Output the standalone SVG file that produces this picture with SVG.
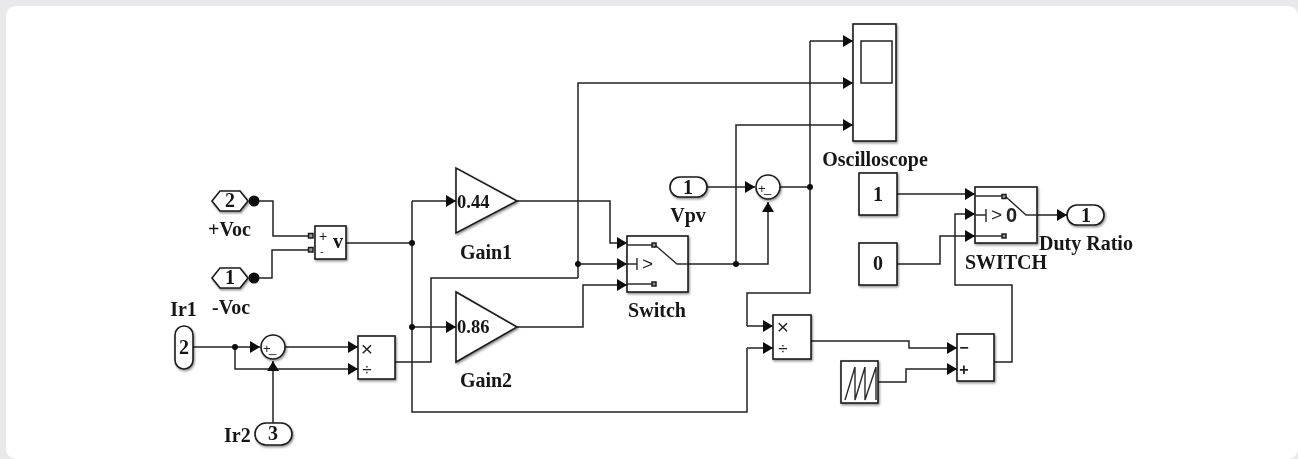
<svg xmlns="http://www.w3.org/2000/svg" width="1298" height="459" viewBox="0 0 1298 459">
<style>
.b{fill:#fff;stroke:#1c1c1c;stroke-width:1.6;filter:url(#sh)}
.w{fill:none;stroke:#222;stroke-width:1.5}
.a{marker-end:url(#ar)}
.i{fill:none;stroke:#2a2a2a;stroke-width:1.4}
.p{fill:#999;stroke:#1c1c1c;stroke-width:1.5}
.t{font-family:"Liberation Serif",serif;font-weight:bold;fill:#161616;font-size:20px}
.n{font-size:18.500px}
.c{text-anchor:middle}
.s{font-family:"Liberation Sans",sans-serif;fill:#222}
</style>
<defs>
<marker id="ar" markerUnits="userSpaceOnUse" markerWidth="10" markerHeight="12" refX="10" refY="6" orient="auto"><path d="M0 0L10 6L0 12Z" fill="#111"/></marker>
<filter id="sh" x="-20%" y="-20%" width="140%" height="140%"><feDropShadow dx="1" dy="1.5" stdDeviation="1" flood-color="#000" flood-opacity=".45"/></filter>
<filter id="soft" filterUnits="userSpaceOnUse" x="0" y="0" width="1298" height="459"><feGaussianBlur stdDeviation="0.35"/></filter>
</defs>
<rect width="1298" height="459" fill="#e9e9eb"/>
<rect x="6" y="6" width="1292" height="453" rx="10" fill="#fff"/>
<g filter="url(#soft)">
<g id="connectors">
<path class="w" d="M254 201H273V236H308"/>
<path class="w" d="M254 278H272V250H308"/>
<path class="w" d="M346 243H412"/>
<path class="w a" d="M412 201H456"/>
<path class="w" d="M412 201V412H747V348"/>
<path class="w a" d="M747 348H773"/>
<path class="w a" d="M412 327H456"/>
<path class="w a" d="M193 347H260"/>
<path class="w a" d="M235 347V369H358"/>
<path class="w a" d="M285 347H358"/>
<path class="w a" d="M273 423V361"/>
<path class="w" d="M395 362H431V278H578"/>
<path class="w a" d="M578 278V83H853"/>
<path class="w a" d="M578 264H627"/>
<path class="w a" d="M517 201H610V243H627"/>
<path class="w a" d="M517 327H583V285H627"/>
<path class="w a" d="M688 264H768V202"/>
<path class="w a" d="M736 264V125H853"/>
<path class="w a" d="M707 187H755"/>
<path class="w" d="M780 187H810"/>
<path class="w a" d="M810 41H853"/>
<path class="w" d="M810 41V293H747V326"/>
<path class="w a" d="M747 326H773"/>
<path class="w a" d="M811 341H909V348H957"/>
<path class="w a" d="M878 382H906V369H957"/>
<path class="w a" d="M994 362H1012V285H955V214H975"/>
<path class="w a" d="M897 194H975"/>
<path class="w a" d="M897 264H940V236H975"/>
<path class="w a" d="M1037 215H1067"/>
<g fill="#111">
<circle cx="412" cy="243" r="3"/><circle cx="412" cy="327" r="3"/><circle cx="235" cy="347" r="3"/>
<circle cx="578" cy="264" r="3"/><circle cx="736" cy="264" r="3"/><circle cx="810" cy="187" r="3"/>
</g>
</g>
<g id="vplus"><path class="b" d="M212 201L220 191H240L248 201L240 211H220Z"/><circle cx="254" cy="201" r="5.500" fill="#111"/><text class="t c" x="230" y="207">2</text><text class="t" x="208" y="236">+Voc</text></g>
<g id="vminus"><path class="b" d="M212 278L220 268H240L248 278L240 288H220Z"/><circle cx="254" cy="278" r="5.500" fill="#111"/><text class="t c" x="230" y="284">1</text><text class="t" x="212" y="314">-Voc</text></g>
<g id="voltmeter"><rect class="b" x="315" y="226" width="31" height="33"/><rect class="p" x="308.500" y="233.500" width="4.500" height="4.500"/><rect class="p" x="308.500" y="247.500" width="4.500" height="4.500"/><text class="s" x="319" y="241" font-size="14">+</text><text class="s" x="320" y="255" font-size="11">-</text><text class="t" x="333" y="248">v</text></g>
<g id="ir1"><rect class="b" x="175" y="326" width="18" height="43" rx="9"/><text class="t c" x="184" y="354">2</text><text class="t c" x="183.500" y="316">Ir1</text></g>
<g id="ir2"><rect class="b" x="255" y="423" width="37" height="22" rx="11"/><text class="t c" x="273" y="440">3</text><text class="t" x="224" y="442">Ir2</text></g>
<g id="sum1"><circle class="b" cx="273" cy="347" r="12"/><text class="s" x="263" y="353" font-size="13">+</text><text class="s" x="269" y="352" font-size="13">_</text></g>
<g id="product1"><rect class="b" x="358" y="336" width="37" height="43"/><text class="s c" x="367" y="356" font-size="21">×</text><text class="s c" x="367" y="375" font-size="17">÷</text></g>
<g id="gain1"><path class="b" d="M456 168V233L517 201Z"/><text class="t n" x="457" y="208">0.44</text><text class="t c" x="486" y="259">Gain1</text></g>
<g id="gain2"><path class="b" d="M456 292V362L517 327Z"/><text class="t n" x="457" y="333">0.86</text><text class="t c" x="486" y="387">Gain2</text></g>
<g id="switch1"><rect class="b" x="627" y="236" width="61" height="56"/>
<path class="i" d="M627 245H652M627 264H637M637 258V270M627 284H652M655 245L677 264H688"/><rect class="p" x="652" y="243" width="4" height="4"/><rect class="p" x="652" y="282" width="4" height="4"/><text class="s" x="642" y="270" font-size="19" fill="#444">&gt;</text><text class="t c" x="657" y="317">Switch</text></g>
<g id="vpv"><rect class="b" x="670" y="177" width="37" height="20" rx="10"/><text class="t c" x="688" y="194">1</text><text class="t c" x="688" y="222">Vpv</text></g>
<g id="sum2"><circle class="b" cx="768" cy="187" r="12"/><text class="s" x="758" y="193" font-size="13">+</text><text class="s" x="764" y="192" font-size="13">_</text></g>
<g id="scope"><rect class="b" x="853" y="24" width="43" height="117"/><rect x="861" y="41" width="31" height="42" fill="#fff" stroke="#222" stroke-width="1.500"/><text class="t c" x="875" y="166">Oscilloscope</text></g>
<g id="const1"><rect class="b" x="859" y="173" width="38" height="42"/><text class="t c" x="878" y="201">1</text></g>
<g id="const0"><rect class="b" x="859" y="243" width="38" height="42"/><text class="t c" x="878" y="270">0</text></g>
<g id="switch2"><rect class="b" x="975" y="187" width="62" height="56"/>
<path class="i" d="M975 196H1002M975 215H986M986 209V222M975 236H1002M1005 196L1026 215H1037"/><rect class="p" x="1002" y="194.500" width="4" height="4"/><rect class="p" x="1002" y="234" width="4" height="4"/><text class="s" x="991" y="221" font-size="19" fill="#444">&gt;</text><text class="s" x="1006" y="222" font-size="20" font-weight="bold">0</text><text class="t c" x="1006" y="269">SWITCH</text></g>
<g id="duty"><rect class="b" x="1067" y="205" width="37" height="20" rx="10"/><text class="t c" x="1086" y="222">1</text><text class="t" x="1039" y="250">Duty Ratio</text></g>
<g id="product2"><rect class="b" x="773" y="315" width="38" height="44"/><text class="s c" x="783" y="334" font-size="21">×</text><text class="s c" x="783" y="354" font-size="17">÷</text></g>
<g id="sawtooth"><rect class="b" x="841" y="361" width="37" height="42"/><path class="i" d="M845 400L855 367V400L865 367V400L876 367V400"/></g>
<g id="subtract"><rect class="b" x="957" y="334" width="37" height="47"/><text class="s c" x="964" y="353" font-size="16" font-weight="bold">−</text><text class="s c" x="964" y="375" font-size="16" font-weight="bold">+</text></g>
</g>
</svg>
